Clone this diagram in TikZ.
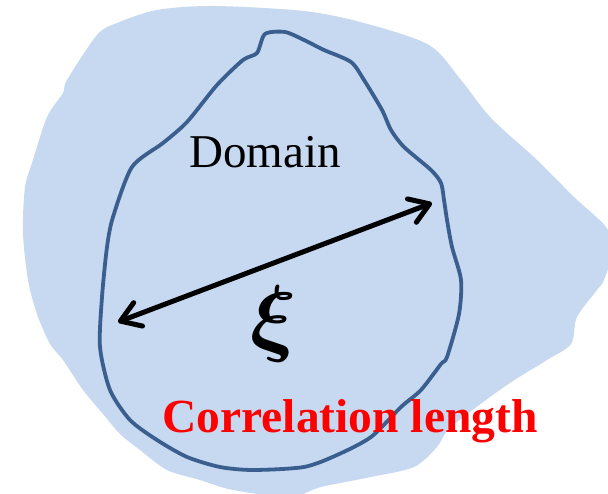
\RequirePackage{fix-cm}
\documentclass[tikz,border=0pt]{standalone}
\usepackage{bm}
\usepackage{fontspec}
\setmainfont{Liberation Serif}
\usepackage{xcolor}
\definecolor{skyfill}{RGB}{198, 217, 240}
\definecolor{rimblue}{RGB}{58, 95, 142}
\usepackage{tikz}
\usetikzlibrary{arrows.meta}

\begin{document}
\begin{tikzpicture}[x=1pt, y=-1pt,
  blob/.style={fill=skyfill, draw=none},
  rim/.style={draw=rimblue, line width=3.8pt, line join=round},
  lbl/.style={inner sep=0pt, font=\fontsize{47}{50}\selectfont},
  corr/.style={line width=5pt, {Straight Barb[length=19pt, width=25pt, round]}-{Straight Barb[length=19pt, width=25pt, round]}}
]
  \clip (0,0) rectangle (608,494);

  \fill[blob] plot[smooth cycle, tension=0.5] coordinates {
    (157,10) (213,6) (304,11) (364,23) (429,45) (461,80) (491,118)
    (537,160) (574,197) (606,227) (613,250) (604,280) (597,290) (577,317)
    (571,344) (547,360) (504,387) (451,427) (437,447) (414,467)
    (371,477) (321,487) (290,497) (233,490) (200,480) (167,470)
    (140,450) (120,434) (103,414) (83,390) (63,360) (50,344)
    (37,314) (28,280) (23,233) (25,187) (33,160) (47,117) (63,93)
    (67,80) (97,35) (117,23)};

  \draw[rim] plot[smooth cycle, tension=0.45] coordinates {
    (265,34) (285,32) (304,40) (324,50) (351,62) (364,80) (382,110)
    (391,130) (404,147) (431,170) (441,183) (444,200) (447,220)
    (452,247) (461,280) (459,314) (447,357) (441,364) (421,390)
    (401,407) (371,437) (337,455) (304,467) (253,470) (220,467)
    (187,457) (157,440) (130,420) (110,390) (100,347) (102,297)
    (107,247) (113,217) (132,167) (163,143) (187,122) (217,85)
    (243,60) (257,53)};

  \node[lbl, anchor=base] (dom) at (265,168) {Domain};
  \node[inner sep=0pt] (xi) at (274,324) {\fontsize{86}{90}\selectfont$\bm{\xi}$};
  \node[lbl, anchor=base, text=red, font=\fontsize{47.5}{50}\selectfont\bfseries] (len) at (350,432) {Correlation length};

  \coordinate (aL) at (118,322);
  \coordinate (aR) at (432,203);
  \draw[corr] (aL) -- (aR);
\end{tikzpicture}
\end{document}
